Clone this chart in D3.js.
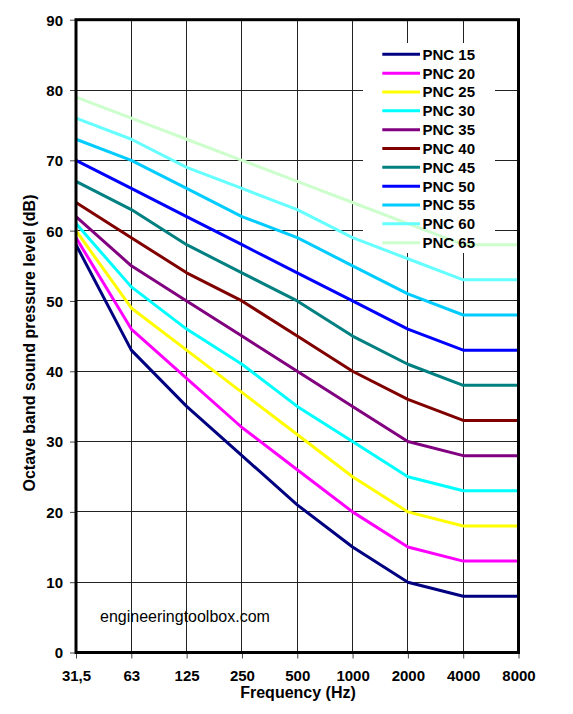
<!DOCTYPE html>
<html>
<head>
<meta charset="utf-8">
<script src="https://cdn.jsdelivr.net/npm/d3@7"></script>
<style>
  html, body { margin: 0; padding: 0; background: #fff; }
  svg { display: block; font-family: "Liberation Sans", Arial, sans-serif; }
</style>
</head>
<body>
<svg id="chart" width="573" height="714"></svg>
<script>
// ---- data ----
const frequencies = ["31,5", "63", "125", "250", "500", "1000", "2000", "4000", "8000"];
const seriesNames = ["PNC 15", "PNC 20", "PNC 25", "PNC 30", "PNC 35", "PNC 40", "PNC 45", "PNC 50", "PNC 55", "PNC 60", "PNC 65"];
const pnc15 = [58, 43, 35, 28, 21, 15, 10, 8, 8];
const pnc20 = [59, 46, 39, 32, 26, 20, 15, 13, 13];
const pnc25 = [60, 49, 43, 37, 31, 25, 20, 18, 18];
const pnc30 = [61, 52, 46, 41, 35, 30, 25, 23, 23];
const pnc35 = [62, 55, 50, 45, 40, 35, 30, 28, 28];
const pnc40 = [64, 59, 54, 50, 45, 40, 36, 33, 33];
const pnc45 = [67, 63, 58, 54, 50, 45, 41, 38, 38];
const pnc50 = [70, 66, 62, 58, 54, 50, 46, 43, 43];
const pnc55 = [73, 70, 66, 62, 59, 55, 51, 48, 48];
const pnc60 = [76, 73, 69, 66, 63, 59, 56, 53, 53];
const pnc65 = [79, 76, 73, 70, 67, 64, 61, 58, 58];
const seriesColors = ["#000080", "#FF00FF", "#FFFF00", "#00FFFF", "#800080", "#800000", "#008080", "#0000FF", "#00CCFF", "#66FFFF", "#CCFFCC"];
const yTicks = [0, 10, 20, 30, 40, 50, 60, 70, 80, 90];

const seriesValues = [pnc15, pnc20, pnc25, pnc30, pnc35, pnc40, pnc45, pnc50, pnc55, pnc60, pnc65];
const series = seriesNames.map((name, i) => ({ name, color: seriesColors[i], values: seriesValues[i] }));

// ---- layout ----
const svg = d3.select("#chart");
const L = 76, R = 518.5, T = 19.7, B = 652.5;

const x = d3.scalePoint().domain(frequencies).range([L, R]);
const y = d3.scaleLinear().domain([0, 90]).range([B, T]);

// gridlines
const grid = svg.append("g").attr("shape-rendering", "crispEdges");
grid.selectAll("line.h").data(yTicks.slice(1, -1)).join("line")
  .attr("x1", L).attr("x2", R).attr("y1", d => y(d)).attr("y2", d => y(d))
  .attr("stroke", "#222").attr("stroke-width", 1);
grid.selectAll("line.v").data(frequencies.slice(1, -1)).join("line")
  .attr("y1", T).attr("y2", B).attr("x1", d => x(d)).attr("x2", d => x(d))
  .attr("stroke", "#222").attr("stroke-width", 1);

// legend background (hides gridlines)
const legX = 363, legY = 43, legW = 132, legH = 210;
svg.append("rect").attr("x", legX).attr("y", legY).attr("width", legW).attr("height", legH).attr("fill", "#fff");

// axes
const yAxis = d3.axisLeft(y).tickValues(yTicks).tickSize(6).tickPadding(7);
const gy = svg.append("g").attr("transform", `translate(${L},0)`).call(yAxis);
gy.select(".domain").remove();
gy.selectAll(".tick line").attr("stroke", "#444");
gy.selectAll(".tick text").attr("font-size", 15).attr("font-weight", "bold").attr("fill", "#000")
  .attr("font-family", "'Liberation Sans', Arial, sans-serif").attr("dy", "0.36em");

const xAxis = d3.axisBottom(x).tickSize(6).tickPadding(0);
const gx = svg.append("g").attr("transform", `translate(0,${B})`).call(xAxis);
gx.select(".domain").remove();
gx.selectAll(".tick line").attr("stroke", "#444");
gx.selectAll(".tick text").attr("font-size", 15).attr("font-weight", "bold").attr("fill", "#000")
  .attr("font-family", "'Liberation Sans', Arial, sans-serif").attr("dy", null).attr("y", 28.5);

// series
const line = d3.line().x((d, i) => x(frequencies[i])).y(d => y(d));
svg.append("g").selectAll("path").data(series).join("path")
  .attr("d", d => line(d.values))
  .attr("fill", "none").attr("stroke", d => d.color).attr("stroke-width", 3)
  .attr("stroke-linejoin", "round");

// frame
svg.append("rect").attr("x", L).attr("y", T).attr("width", R - L).attr("height", B - T)
  .attr("fill", "none").attr("stroke", "#000").attr("stroke-width", 3);

// legend items
const leg = svg.append("g");
const rowY0 = 54.3, rowStep = 18.84;
series.forEach((s, i) => {
  const yy = rowY0 + i * rowStep;
  leg.append("line").attr("x1", 382.3).attr("x2", 420).attr("y1", yy).attr("y2", yy)
    .attr("stroke", s.color).attr("stroke-width", 3);
  leg.append("text").attr("x", 422.5).attr("y", yy).attr("dy", "0.36em")
    .attr("font-size", 15).attr("font-weight", "bold").attr("fill", "#000").text(s.name);
});

// watermark
svg.append("text").attr("x", 100).attr("y", 621.7).attr("font-size", 16).attr("fill", "#000")
  .text("engineeringtoolbox.com");

// axis titles
svg.append("text").attr("x", 298).attr("y", 697.5).attr("text-anchor", "middle")
  .attr("font-size", 16).attr("font-weight", "bold").text("Frequency (Hz)");
svg.append("text").attr("transform", "translate(35,343) rotate(-90)").attr("text-anchor", "middle")
  .attr("font-size", 16).attr("font-weight", "bold").text("Octave band sound pressure level (dB)");
</script>
</body>
</html>
